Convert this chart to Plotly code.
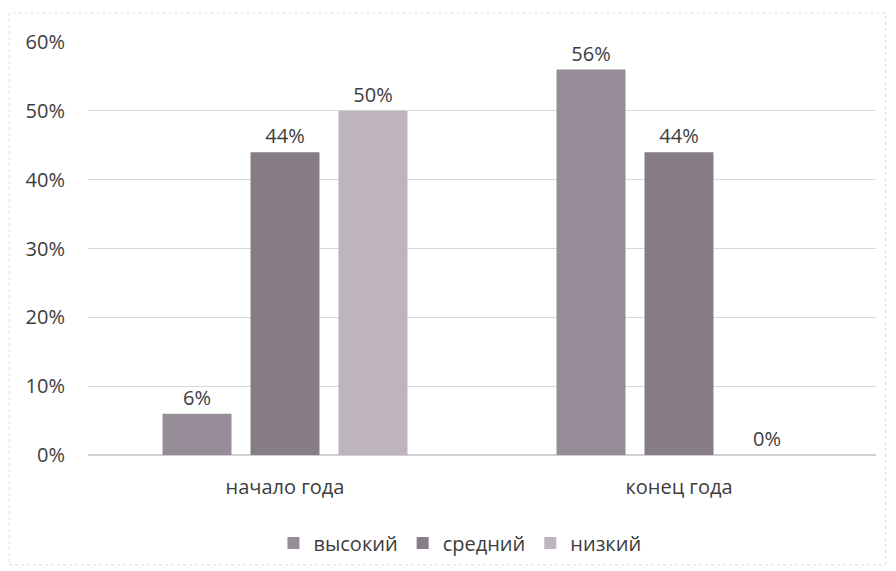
import plotly.graph_objects as go

categories = ["начало года", "конец года"]
series_names = ["высокий", "средний", "низкий"]
vysokiy = [0.06, 0.56]
sredniy = [0.44, 0.44]
nizkiy = [0.50, 0.00]
series_values = [vysokiy, sredniy, nizkiy]
colors = ["#978d98", "#877d87", "#bdb4bd"]

FS = 20
TXT = "#3d3d3d"

fig = go.Figure()
for name, vals, col in zip(series_names, series_values, colors):
    fig.add_trace(go.Bar(
        x=categories, y=vals, name=name,
        marker=dict(color=col, line=dict(width=0)),
        text=[f"{v*100:.0f}%" for v in vals],
        textposition="outside", cliponaxis=False,
        textfont=dict(size=FS, color=TXT, family="Open Sans"),
    ))

fig.update_layout(
    width=888, height=563,
    margin=dict(l=80, r=20, t=34, b=116, autoexpand=False),
    paper_bgcolor="white", plot_bgcolor="white",
    barmode="group", bargap=0.33, bargroupgap=0.216,
    font=dict(family="Open Sans", size=FS, color=TXT),
    showlegend=True,
    legend=dict(orientation="h", x=0.472, xanchor="center", y=-0.213, yanchor="middle",
                font=dict(size=FS, color=TXT), itemwidth=30, traceorder="normal"),
    xaxis=dict(showline=False, ticks="", automargin=False, ticklabelstandoff=18,
               tickfont=dict(size=FS, color=TXT)),
    yaxis=dict(range=[0, 0.6], dtick=0.1, tickformat=".0%", showgrid=True, automargin=False,
               gridcolor="#d9d9d9", gridwidth=1, zeroline=True, zerolinecolor="#d0d0d0",
               ticks="", ticklabelstandoff=22, tickfont=dict(size=FS, color=TXT)),
    shapes=[dict(type="rect", xref="paper", yref="paper",
                 x0=-0.1, x1=1.012, y0=-0.266, y1=1.070,
                 line=dict(color="#dcdcdc", width=1, dash="dot"))],
)

fig.write_html("out.html")
